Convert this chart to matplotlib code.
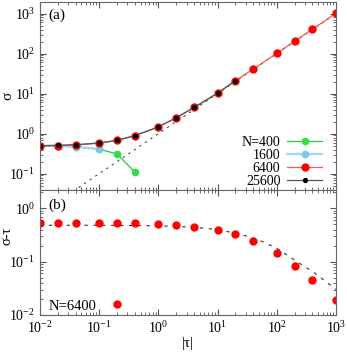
import matplotlib
matplotlib.use('Agg')
import matplotlib.pyplot as plt
import numpy as np

plt.rcParams['font.family'] = ['Liberation Serif', 'DejaVu Serif']
plt.rcParams['mathtext.fontset'] = 'stix'
plt.rcParams['font.size'] = 10

# data
tau = [0.01, 0.02, 0.04, 0.1, 0.2, 0.4, 1, 2, 4, 10, 20, 40, 100, 200, 400, 1000]

tau_400 = [0.01, 0.02, 0.04, 0.1, 0.2, 0.4]
sig_400 = [0.50, 0.49, 0.47, 0.41, 0.31, 0.11]

tau_1600 = [0.01, 0.02, 0.04, 0.1]
sig_1600 = [0.50, 0.49, 0.47, 0.41]

sig_6400 = [0.50, 0.50, 0.52, 0.58, 0.68, 0.89, 1.47, 2.5, 4.5, 10.3, 21, 41, 102, 204, 407, 1020]

tau_25600 = [0.01, 0.02, 0.04, 0.1, 0.2, 0.4, 1, 2, 4, 10, 20]
sig_25600 = [0.50, 0.51, 0.53, 0.58, 0.68, 0.89, 1.47, 2.5, 4.5, 10.3, 21]

diag = [0.01, 1000]

# panel (b): sigma - tau for N=6400
diff_6400 = [0.52, 0.52, 0.52, 0.52, 0.52, 0.52, 0.50, 0.48, 0.45, 0.40, 0.33, 0.245, 0.143, 0.083, 0.046, 0.019]
fit_tau = [0.01, 0.1, 1, 4, 10, 14, 26, 59, 107, 218, 447, 1000]
fit_val = [0.48, 0.48, 0.47, 0.44, 0.40, 0.37, 0.32, 0.235, 0.17, 0.10, 0.06, 0.03]

fig = plt.figure(figsize=(3.47, 3.53), dpi=100)
ax1 = fig.add_axes([40/347, 1-190/353, 296/347, 188/353])
ax2 = fig.add_axes([40/347, 1-315/353, 296/347, 125/353])

ax1.plot(diag, diag, ls=(0, (2, 4)), color='#444444', lw=0.8)
ax1.plot(tau_400, sig_400, '-o', color='#22cc33', mfc='#33dd44', mec='#33dd44', ms=4.5, lw=0.9, label='N=400')
ax1.plot(tau_1600, sig_1600, '-o', color='#99ddee', mfc='#77ccee', mec='#77ccee', ms=4.5, lw=1.6, label='1600')
ax1.plot(tau, sig_6400, '-o', color='#ff5555', mfc='red', mec='red', ms=5, lw=0.9, label='6400')
ax1.plot(tau_25600, sig_25600, '-o', color='#555555', mfc='black', mec='black', ms=2.8, lw=0.9, label='25600')

ax2.plot(fit_tau, fit_val, ls=(0, (3, 5)), color='#333333', lw=0.8)
ax2.plot(tau, diff_6400, 'o', color='red', ms=5, label='N=6400')

for ax in (ax1, ax2):
    ax.set_xscale('log')
    ax.set_yscale('log')
    ax.set_xlim(0.01, 1000)
    ax.tick_params(which='both', direction='in', top=True, right=True, color='#555555', labelsize=10)
    ax.tick_params(which='major', length=4)
    ax.tick_params(which='minor', length=2)
    for s in ax.spines.values():
        s.set_color('#666666')

ax1.set_ylim(0.039, 1950)
ax1.tick_params(labelbottom=False)
ax1.set_ylabel('σ', fontsize=11)
ax1.yaxis.set_label_coords(-0.087, 0.5)
ax1.text(0.027, 0.965, '(a)', transform=ax1.transAxes, va='top', ha='left', fontsize=11)
ax1.legend(loc='lower right', frameon=False, markerfirst=False, handlelength=2.5,
           fontsize=10, labelspacing=0.0, borderaxespad=0.0, borderpad=0.0,
           handletextpad=0.5, bbox_to_anchor=(0.953, 0.012))

ax2.set_ylim(0.01, 2.2)
ax2.set_ylabel('σ-τ', fontsize=10.5)
ax2.yaxis.set_label_coords(-0.09, 0.63)
ax2.set_xlabel('|τ|', fontsize=11, labelpad=1)
ax2.text(0.027, 0.93, '(b)', transform=ax2.transAxes, va='top', ha='left', fontsize=11)
ax2.legend(loc='lower left', frameon=False, markerfirst=False, handlelength=1.6,
           fontsize=10.5, borderaxespad=0.0, borderpad=0.0, handletextpad=0.6,
           bbox_to_anchor=(0.03, 0.02))

fig.savefig('out.png', dpi=100)
